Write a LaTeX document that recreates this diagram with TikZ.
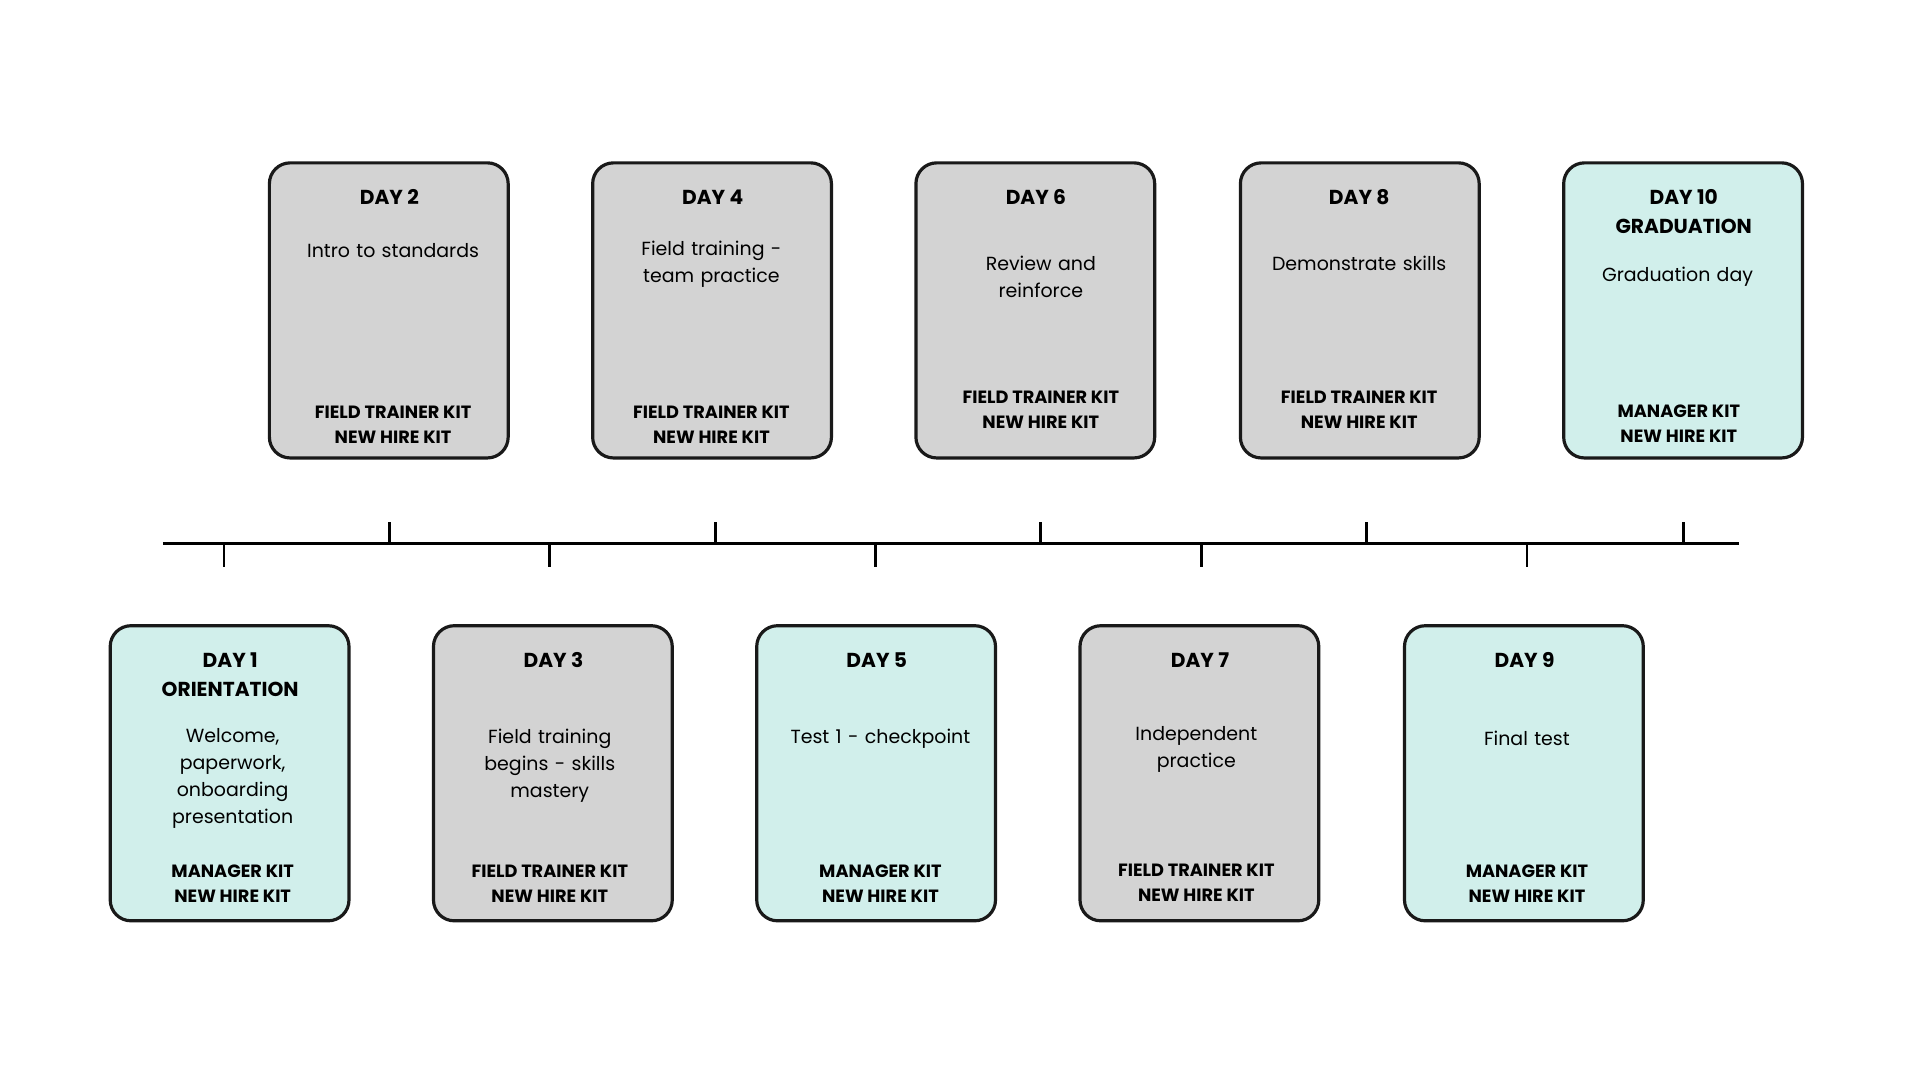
\documentclass[tikz,border=0pt]{standalone}
\usepackage{fontspec}
\setmainfont{Poppins}
\definecolor{gbox}{HTML}{D3D3D3}
\definecolor{tbox}{HTML}{D1EFEB}
\begin{document}
\begin{tikzpicture}[x=1pt,y=-1pt,
 card/.style={draw=black!90,line width=2.6pt,rounded corners=17pt,minimum width=195pt,minimum height=241pt,inner sep=0},
 ttl/.style={font=\fontsize{16.5}{24}\selectfont\bfseries,align=center},
 desc/.style={font=\fontsize{15.5}{22}\selectfont,align=center,text width=170pt},
 kit/.style={font=\fontsize{14.5}{20.5}\selectfont\bfseries,align=center},
 tl/.style={line width=2.3pt}]
\useasboundingbox (0,0) rectangle (1568,882);
\fill[white] (0,0) rectangle (1568,882);
% top row
\node[card,fill=gbox] (b2) at (317.5,253.5) {};
\node[card,fill=gbox] (b4) at (581.5,253.5) {};
\node[card,fill=gbox] (b6) at (845.5,253.5) {};
\node[card,fill=gbox] (b8) at (1110.5,253.5) {};
\node[card,fill=tbox] (b10) at (1374.5,253.5) {};
% bottom row
\node[card,fill=tbox] (b1) at (187.5,631.5) {};
\node[card,fill=gbox] (b3) at (451.5,631.5) {};
\node[card,fill=tbox] (b5) at (715.5,631.5) {};
\node[card,fill=gbox] (b7) at (979.5,631.5) {};
\node[card,fill=tbox] (b9) at (1244.5,631.5) {};
% texts top
\node[ttl] (t2) at (318,161) {DAY 2};
\node[desc] (d2) at (321,205) {Intro to standards};
\node[kit] (k2) at (321,347) {FIELD TRAINER KIT\\NEW HIRE KIT};
\node[ttl] (t4) at (582,161) {DAY 4};
\node[desc] (d4) at (581,216) {Field training -\\team practice};
\node[kit] (k4) at (581,347) {FIELD TRAINER KIT\\NEW HIRE KIT};
\node[ttl] (t6) at (846,161) {DAY 6};
\node[desc] (d6) at (850,226) {Review and\\reinforce};
\node[kit] (k6) at (850,335) {FIELD TRAINER KIT\\NEW HIRE KIT};
\node[ttl] (t8) at (1110,161) {DAY 8};
\node[desc] (d8) at (1110,215) {Demonstrate skills};
\node[kit] (k8) at (1110,335) {FIELD TRAINER KIT\\NEW HIRE KIT};
\node[ttl] (t10) at (1375,173) {DAY 10\\GRADUATION};
\node[desc] (d10) at (1370,226) {Graduation day};
\node[kit] (k10) at (1371,346) {MANAGER KIT\\NEW HIRE KIT};
% texts bottom
\node[ttl] (t1) at (188,551) {DAY 1\\ORIENTATION};
\node[desc] (d1) at (190,636) {Welcome,\\paperwork,\\onboarding\\presentation};
\node[kit] (k1) at (190,722) {MANAGER KIT\\NEW HIRE KIT};
\node[ttl] (t3) at (452,539) {DAY 3};
\node[desc] (d3) at (449,625) {Field training\\begins - skills\\mastery};
\node[kit] (k3) at (449,722) {FIELD TRAINER KIT\\NEW HIRE KIT};
\node[ttl] (t5) at (716,539) {DAY 5};
\node[desc] (d5) at (719,603) {Test 1 - checkpoint};
\node[kit] (k5) at (719,722) {MANAGER KIT\\NEW HIRE KIT};
\node[ttl] (t7) at (980,539) {DAY 7};
\node[desc] (d7) at (977,612) {Independent\\practice};
\node[kit] (k7) at (977,721) {FIELD TRAINER KIT\\NEW HIRE KIT};
\node[ttl] (t9) at (1245,539) {DAY 9};
\node[desc] (d9) at (1247,603) {Final test};
\node[kit] (k9) at (1247,722) {MANAGER KIT\\NEW HIRE KIT};
% timeline
\coordinate (L) at (133,444); \coordinate (R) at (1420,444);
\draw[tl] (L) -- (R);
\foreach \x in {318,584,850,1116,1375}{\draw[tl] (\x,444) -- (\x,426);}
\foreach \x in {183,449,715,981,1247}{\draw[tl] (\x,444) -- (\x,463);}
\end{tikzpicture}
\end{document}
